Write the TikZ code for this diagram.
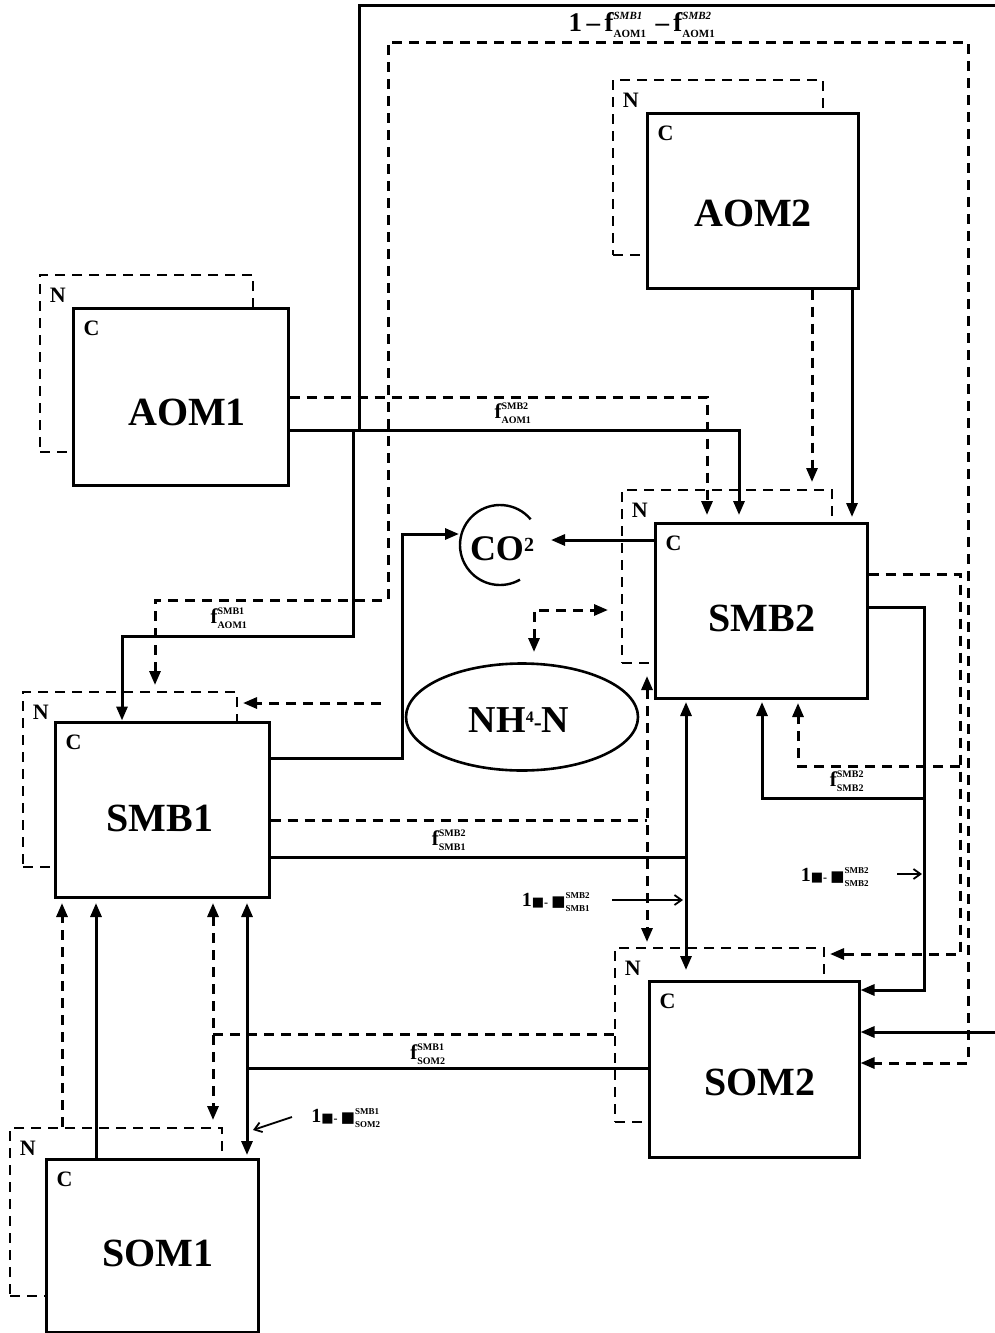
\documentclass[tikz,border=0pt]{standalone}
\usepackage{fontspec}
\setmainfont{Liberation Serif}
\newfontfamily\symf{DejaVu Sans}
\usetikzlibrary{arrows.meta,calc,shapes.geometric}
\newcommand{\sfx}[2]{$\mbox{f}^{\mbox{\fontsize{10}{10}\selectfont #1}}_{\mbox{\fontsize{10}{10}\selectfont #2}}$}
\newcommand{\omf}[2]{1{\symf\fontsize{13}{13}\selectfont ■}{\fontsize{12}{12}\selectfont -}\,{\symf\fontsize{15}{15}\selectfont ■}$^{\mbox{\fontsize{9}{9}\selectfont #1}}_{\mbox{\fontsize{9}{9}\selectfont #2}}$}
\newcommand{\tfx}[2]{$\mbox{f}^{\mbox{\fontsize{11}{11}\selectfont\itshape #1}}_{\mbox{\fontsize{11}{11}\selectfont #2}}$}
\newcommand{\toplab}{1\,\textendash\,\tfx{SMB1}{AOM1}\,\,\textendash\,\tfx{SMB2}{AOM1}}
\begin{document}
\begin{tikzpicture}[x=1pt,y=-1pt,
  >={Triangle[length=14pt,width=11pt]},
  ln/.style={line width=3pt},
  dl/.style={line width=3pt, dash pattern=on 10pt off 7pt},
  nbox/.style={draw, line width=2.8pt, dash pattern=on 10pt off 7pt, inner sep=0pt},
  cbox/.style={draw, line width=3pt, fill=white, inner sep=0pt},
  big/.style={font=\fontsize{40}{40}\selectfont\bfseries, inner sep=0pt},
  corner/.style={font=\fontsize{22}{22}\selectfont\bfseries, inner sep=0pt, anchor=north west},
  lab/.style={font=\fontsize{21}{21}\selectfont\bfseries, inner sep=0pt},
  olab/.style={font=\fontsize{20}{20}\selectfont\bfseries, inner sep=0pt},
  ptr/.style={line width=1.8pt, -{Straight Barb[length=7pt,width=10pt]}}]
\useasboundingbox (0,0) rectangle (994,1333);
\fill[white] (0,0) rectangle (994,1333);

% N boxes
\node[nbox, minimum width=213pt, minimum height=177pt] (aom1n) at (146.5,363.5) {};
\node[nbox, minimum width=210pt, minimum height=175pt] (aom2n) at (718,167.5) {};
\node[nbox, minimum width=210pt, minimum height=173pt] (smb2n) at (727,576.5) {};
\node[nbox, minimum width=214pt, minimum height=175pt] (smb1n) at (130,779.5) {};
\node[nbox, minimum width=209pt, minimum height=174pt] (som2n) at (719.5,1035) {};
\node[nbox, minimum width=212pt, minimum height=168pt] (som1n) at (116,1212) {};
% C boxes
\node[cbox, minimum width=215pt, minimum height=177pt] (aom1) at (180.5,396.5) {};
\node[cbox, minimum width=211pt, minimum height=175pt] (aom2) at (752.5,200.5) {};
\node[cbox, minimum width=212pt, minimum height=175pt] (smb2) at (761,610.5) {};
\node[cbox, minimum width=214pt, minimum height=175pt] (smb1) at (162,809.5) {};
\node[cbox, minimum width=210pt, minimum height=176pt] (som2) at (754,1069) {};
\node[cbox, minimum width=212pt, minimum height=173pt] (som1) at (152,1245.5) {};

% N / C letters
\foreach \b in {aom1,aom2,smb2,smb1,som2,som1}{
  \node[corner] (\b nl) at ($(\b n.north west)+(11,14)$) {N};
  \node[corner] (\b cl) at ($(\b.north west)+(12,14)$) {C};
}
% box names
\node[big] (aom1t) at (187,412) {AOM1};
\node[big] (aom2t) at (753,213) {AOM2};
\node[big] (smb2t) at (762,618) {SMB2};
\node[big] (smb1t) at (160,818) {SMB1};
\node[big] (som2t) at (760,1082) {SOM2};
\node[big] (som1t) at (158,1253) {SOM1};

% CO2 and NH4-N
\draw[line width=2.4pt] (500,545) ++(40:40pt) arc[start angle=40, end angle=300, radius=40pt];
\node[font=\fontsize{36}{36}\selectfont\bfseries, inner sep=0pt] (co2) at (502,549) {CO\raisebox{9pt}{\fontsize{20}{20}\selectfont 2}};
\node[draw, ellipse, line width=2.6pt, minimum width=232pt, minimum height=107pt, inner sep=0pt] (nh4) at (522,717) {};
\node[font=\fontsize{38}{38}\selectfont\bfseries, inner sep=0pt] (nh4t) at (519,720) {NH\raisebox{10pt}{\fontsize{16}{16}\selectfont 4}\raisebox{2pt}{\fontsize{24}{24}\selectfont -}N};

% solid connectors
\draw[ln,->] (aom1.east |- 0,430) -| (739,515);
\draw[ln,->] (353,430) -- (353,636) -| (smb1.north -| 122,0);
\draw[ln] (359,430) -- (359,5) -- (1000,5);
\draw[ln,->] (aom2.south -| 852,0) -- (852,517);
\draw[ln,->] (smb2.west |- 0,540) -- (551,540);
\draw[ln,->] (smb1.east |- 0,758) -- (402,758) -- (402,534) -- (459,534);
\draw[ln] (smb1.east |- 0,857) -- (686,857);
\draw[ln,<->] (686,702) -- (686,970);
\draw[ln,->] (smb2.east |- 0,607) -- (924,607) -- (924,990) -- (som2.east |- 0,990);
\draw[ln,->] (924,798) -- (762,798) -- (762,702);
\draw[ln,->] (1000,1032) -- (som2.east |- 0,1032);
\draw[ln] (som2.west |- 0,1068) -- (247,1068);
\draw[ln,<->] (247,903) -- (247,1155);
\draw[ln,->] (som1.north -| 96,0) -- (96,903);

% dashed connectors
\draw[dl,->] (aom1.east |- 0,397) -| (707,515);
\draw[dl,<->] (155,685) -- (155,600) -- (388,600) -- (388,42) -- (968,42) -- (968,1063) -- (som2.east |- 0,1063);
\draw[dl,->] (aom2.south -| 812,0) -- (812,482);
\draw[dl,->] (381,703) -- (243,703);
\draw[dl,<->] (534,652) -- (534,610) -- (608,610);
\draw[dl] (smb1.east |- 0,820) -- (647,820);
\draw[dl,<->] (647,676) -- (647,942);
\draw[dl,->] (smb2.east |- 0,574) -- (960,574) -- (960,954) -- (830,954);
\draw[dl,->] (960,766) -- (798,766) -- (798,703);
\draw[dl] (som2n.west |- 0,1034) -- (213,1034);
\draw[dl,<->] (213,903) -- (213,1120);
\draw[dl,->] (som1n.north -| 62,0) -- (62,903);

% labels
\node[font=\fontsize{27}{27}\selectfont\bfseries, inner sep=0pt] (ltop) at (642,25) {\toplab};
\node[lab] (l1) at (513,413) {\sfx{SMB2}{AOM1}};
\node[lab] (l2) at (229,618) {\sfx{SMB1}{AOM1}};
\node[lab] (l3) at (449,840) {\sfx{SMB2}{SMB1}};
\node[lab] (l4) at (847,781) {\sfx{SMB2}{SMB2}};
\node[lab] (l5) at (428,1054) {\sfx{SMB1}{SOM2}};
\node[olab] (o1) at (556,902) {\omf{SMB2}{SMB1}};
\node[olab] (o2) at (835,877) {\omf{SMB2}{SMB2}};
\node[olab] (o3) at (346,1118) {\omf{SMB1}{SOM2}};
\coordinate (p1) at (683,900);
\coordinate (p2) at (922,874);
\coordinate (p3) at (253,1130);
\draw[ptr] (612,900) -- (p1);
\draw[ptr] (897,874) -- (p2);
\draw[ptr] (292,1117) -- (p3);
\end{tikzpicture}
\end{document}
